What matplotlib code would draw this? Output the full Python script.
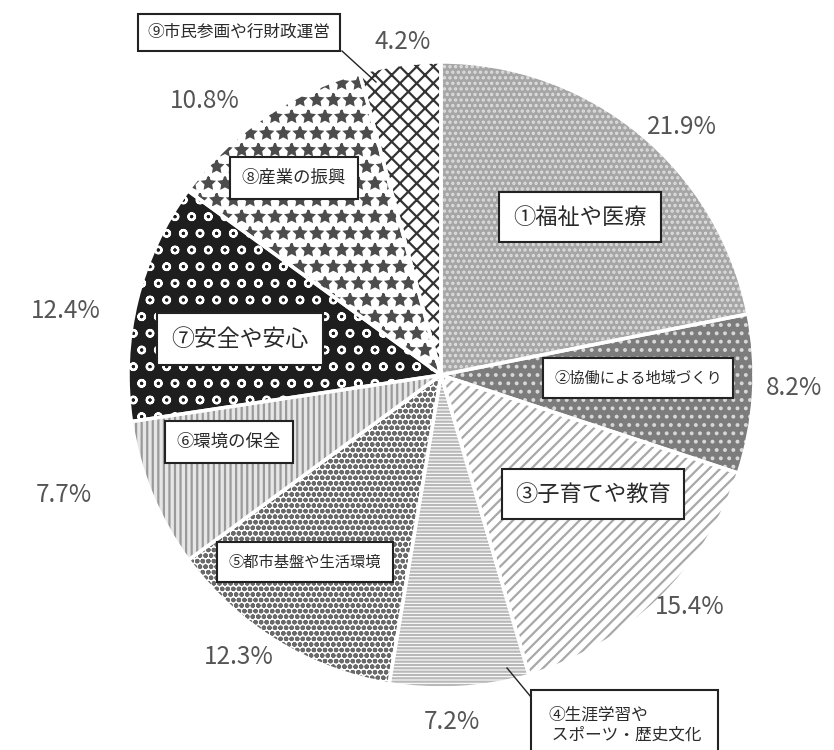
import matplotlib
matplotlib.use("Agg")
import matplotlib.pyplot as plt

plt.rcParams['font.family'] = ['Noto Sans CJK JP', 'DejaVu Sans']

# data (clockwise from 12 o'clock)
labels = ["①福祉や医療", "②協働による地域づくり", "③子育てや教育",
          "④生涯学習や\n スポーツ・歴史文化", "⑤都市基盤や生活環境", "⑥環境の保全",
          "⑦安全や安心", "⑧産業の振興", "⑨市民参画や行財政運営"]
values = [21.9, 8.2, 15.4, 7.2, 12.3, 7.7, 12.4, 10.8, 4.2]
pct_text = ["21.9%", "8.2%", "15.4%", "7.2%", "12.3%", "7.7%", "12.4%", "10.8%", "4.2%"]

# fill styles for each slice: face, hatch, hatch colour
faces = ["#a6a6a6", "#7c7c7c", "white", "white", "white", "#e6e6e6", "#1e1e1e", "white", "white"]
hatches = ["...", "..", "///", "-----", "ooo", "|||", "o", "*", "xx"]
hcols = ["#dedede", "#d8d8d8", "#a8a8a8", "#b8b8b8", "#6a6a6a", "#9a9a9a", "white", "#4c4c4c", "#333333"]

# label positions in picture pixels (x, y from top)
box_pos = [(580, 217), (638, 378), (593, 494), (548, 725), (305, 562),
           (229, 442), (240, 339), (294, 178), (239, 32)]
box_size = [16, 11, 16, 12, 11, 12.5, 16.5, 12.5, 12]
box_pad = [0.62, 0.75, 0.6, 1.0, 0.75, 0.7, 0.62, 0.7, 0.6]
pct_pos = [(682, 127), (794, 388), (690, 607), (452, 722), (239, 657),
           (64, 495), (66, 311), (205, 101), (403, 42)]

W, H = 834, 750
cx, cy, r = 441, 375, 313

fig = plt.figure(figsize=(8.34, 7.5), dpi=100)
ax = fig.add_axes([0, 0, 1, 1])

plt.rcParams['hatch.linewidth'] = 1.6
wedges, _ = ax.pie(values, center=(cx, H - cy), radius=r, startangle=90,
                   counterclock=False, frame=True)
for w, fc, h, hc in zip(wedges, faces, hatches, hcols):
    w.set_facecolor(fc)
    w.set_edgecolor(hc)
    w.set_hatch(h)
    w.set_linewidth(0)

# white separators
ax.pie(values, center=(cx, H - cy), radius=r, startangle=90,
       counterclock=False, frame=True,
       wedgeprops=dict(facecolor="none", edgecolor="white", linewidth=2.5))
ax.set_xlim(0, W)
ax.set_ylim(0, H)
ax.set_aspect("equal")
ax.axis("off")

for i, (lab, (x, y), fs, pad) in enumerate(zip(labels, box_pos, box_size, box_pad)):
    ax.text(x, H - y, lab, fontsize=fs, ha="left" if i == 3 else "center", va="center",
            color="#2a2a2a", linespacing=1.25,
            bbox=dict(boxstyle=f"square,pad={pad}", facecolor="white",
                      edgecolor="#222222", linewidth=1.5))

for t, (x, y) in zip(pct_text, pct_pos):
    ax.text(x, H - y, t, fontsize=17.5, ha="center", va="center", color="#555555")

# leader lines
ax.plot([342, 376], [H - 51, H - 82], color="#222222", linewidth=1)
ax.plot([507, 531], [H - 668, H - 697], color="#222222", linewidth=1)

fig.savefig("out.png", dpi=100)
